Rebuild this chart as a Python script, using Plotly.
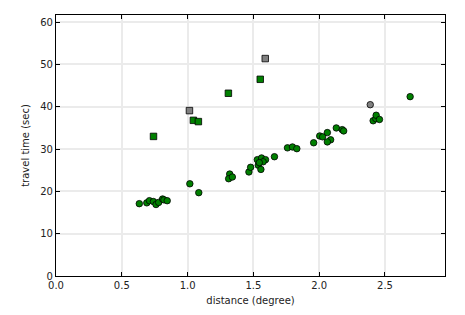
import plotly.graph_objects as go

# green circles
gc_x = [0.633, 0.69, 0.71, 0.74, 0.76, 0.78, 0.81, 0.82, 0.845, 1.017, 1.085,
        1.32, 1.312, 1.34, 1.466, 1.479, 1.53, 1.562, 1.592, 1.537, 1.557, 1.574, 1.545,
        1.66, 1.759, 1.797, 1.83, 1.958, 2.004, 2.026, 2.062, 2.087, 2.062, 2.13, 2.175,
        2.186, 2.41, 2.43, 2.433, 2.458, 2.691]
gc_y = [17.1, 17.3, 17.8, 17.6, 16.9, 17.4, 18.2, 18.0, 17.8, 21.8, 19.7,
        24.1, 23.0, 23.4, 24.6, 25.7, 27.5, 27.9, 27.5, 26.2, 25.2, 27.0, 26.8,
        28.2, 30.3, 30.5, 30.1, 31.5, 33.1, 32.9, 33.9, 32.2, 31.7, 35.0, 34.6,
        34.3, 36.7, 37.2, 38.0, 37.0, 42.4]
# green squares
gs_x = [0.741, 1.044, 1.082, 1.31, 1.552]
gs_y = [33.0, 36.8, 36.5, 43.2, 46.5]
# gray squares
ks_x = [1.014, 1.59]
ks_y = [39.1, 51.4]
# gray circle
kc_x = [2.388]
kc_y = [40.5]

x_ticks = [0, 0.5, 1.0, 1.5, 2.0, 2.5]
x_labels = ["0.0", "0.5", "1.0", "1.5", "2.0", "2.5"]
y_ticks = [0, 10, 20, 30, 40, 50, 60]

fig = go.Figure()
line = dict(color="black", width=0.8)
fig.add_trace(go.Scatter(x=gc_x, y=gc_y, mode="markers",
                         marker=dict(symbol="circle", size=6.5, color="#008000", line=line)))
fig.add_trace(go.Scatter(x=gs_x, y=gs_y, mode="markers",
                         marker=dict(symbol="square", size=6.5, color="#008000", line=line)))
fig.add_trace(go.Scatter(x=ks_x, y=ks_y, mode="markers",
                         marker=dict(symbol="square", size=6.5, color="#808080", line=line)))
fig.add_trace(go.Scatter(x=kc_x, y=kc_y, mode="markers",
                         marker=dict(symbol="circle", size=6.5, color="#808080", line=line)))

axis_common = dict(showline=True, linecolor="black", linewidth=1.2, mirror="ticks",
                   ticks="inside", ticklen=4, tickcolor="black",
                   showgrid=True, gridcolor="#ebebeb", gridwidth=1.5, zeroline=False,
                   tickfont=dict(family="DejaVu Sans", size=10, color="#222"))

fig.update_layout(
    width=465, height=315,
    margin=dict(l=55.5, r=19.5, t=15, b=39),
    paper_bgcolor="white", plot_bgcolor="white",
    showlegend=False,
    font=dict(family="DejaVu Sans", size=10, color="#222"),
    xaxis=dict(range=[0, 2.956], tickvals=x_ticks, ticktext=x_labels,
               title=dict(text="distance (degree)", standoff=6, font=dict(size=10)),
               **axis_common),
    yaxis=dict(range=[0, 61.7], tickvals=y_ticks,
               title=dict(text="travel time (sec)", standoff=8, font=dict(size=10)),
               **axis_common),
)

fig.write_html("out.html")
